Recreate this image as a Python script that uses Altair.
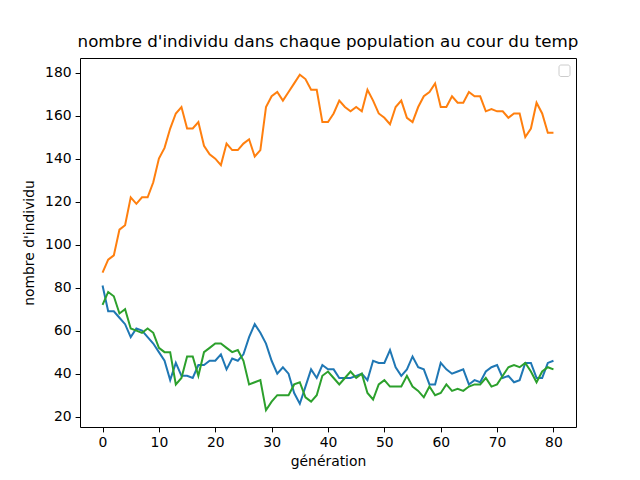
import altair as alt
import pandas as pd

generation = list(range(81))

pop_bleu = [81, 69, 69, 66, 63, 57, 61, 60, 57, 54, 50, 46, 37, 45, 39, 39, 38, 44, 44, 46,
            46, 49, 42, 47, 46, 49, 57, 63, 59, 54, 46, 40, 43, 40, 31, 26, 34, 42, 38, 44,
            42, 42, 38, 38, 38, 39, 40, 37, 46, 45, 45, 51, 43, 39, 42, 48, 43, 42, 35, 35,
            45, 42, 40, 41, 42, 35, 37, 36, 41, 43, 44, 38, 39, 36, 37, 45, 45, 38, 38, 45, 46]

pop_orange = [87, 93, 95, 107, 109, 122, 119, 122, 122, 129, 140, 145, 154, 161, 164, 154, 154, 157, 146, 142,
              140, 137, 147, 144, 144, 147, 149, 141, 144, 164, 169, 171, 167, 171, 175, 179, 177, 172, 172, 157,
              157, 161, 167, 164, 162, 164, 162, 172, 167, 161, 159, 156, 164, 167, 159, 157, 164, 169, 171, 175,
              164, 164, 169, 166, 166, 171, 169, 169, 162, 163, 162, 162, 159, 161, 161, 150, 154, 166, 161, 152, 152]

pop_vert = [72, 78, 76, 68, 70, 61, 60, 59, 61, 59, 52, 50, 50, 35, 38, 48, 48, 39, 50, 52,
            54, 54, 52, 50, 51, 46, 35, 36, 37, 23, 27, 30, 30, 30, 35, 36, 29, 27, 30, 39,
            41, 38, 35, 38, 41, 38, 40, 31, 28, 35, 37, 34, 34, 34, 39, 34, 32, 29, 34, 30,
            31, 35, 32, 33, 32, 34, 35, 35, 38, 34, 35, 39, 43, 44, 43, 45, 41, 36, 41, 43, 42]

x_ticks = [0, 10, 20, 30, 40, 50, 60, 70, 80]
y_ticks = [20, 40, 60, 80, 100, 120, 140, 160, 180]

font = "DejaVu Sans"

x_scale = alt.Scale(domain=[-4, 84], nice=False, zero=False)
y_scale = alt.Scale(domain=[15.2, 186.8], nice=False, zero=False)

x_axis = alt.Axis(values=x_ticks, title="génération", grid=False, tickSize=4.9,
                  labelPadding=4, titlePadding=5, domain=False)
y_axis = alt.Axis(values=y_ticks, title="nombre d'individu", grid=False, tickSize=4.9,
                  labelPadding=4, titlePadding=8, domain=False)


def serie(values, color):
    df = pd.DataFrame({"generation": generation, "n": values})
    return alt.Chart(df).mark_line(color=color, strokeWidth=2).encode(
        x=alt.X("generation:Q", scale=x_scale, axis=x_axis),
        y=alt.Y("n:Q", scale=y_scale, axis=y_axis),
    )


legend_box = alt.Chart(pd.DataFrame({"a": [0]})).mark_rect(
    fill="white", stroke="#cccccc", strokeWidth=1, cornerRadius=2
).encode(x=alt.value(479), x2=alt.value(490), y=alt.value(7), y2=alt.value(18.5))

chart = alt.layer(
    serie(pop_bleu, "#1f77b4"),
    serie(pop_orange, "#ff7f0e"),
    serie(pop_vert, "#2ca02c"),
    legend_box,
).properties(
    width=496,
    height=369,
    title=alt.TitleParams("nombre d'individu dans chaque population au cour du temp",
                          fontSize=16.7, font=font, fontWeight="normal", color="black",
                          offset=7, anchor="middle"),
    autosize=alt.AutoSizeParams(type="none"),
    padding={"left": 80, "top": 58, "right": 64, "bottom": 53},
).configure_view(
    stroke="black", strokeWidth=1
).configure_axis(
    labelFont=font, titleFont=font, labelFontSize=13.9, titleFontSize=13.9,
    labelColor="black", titleColor="black", tickColor="black", titleFontWeight="normal",
    tickWidth=1
)

chart.save("out.html", embed_options={"renderer": "svg", "actions": False})
